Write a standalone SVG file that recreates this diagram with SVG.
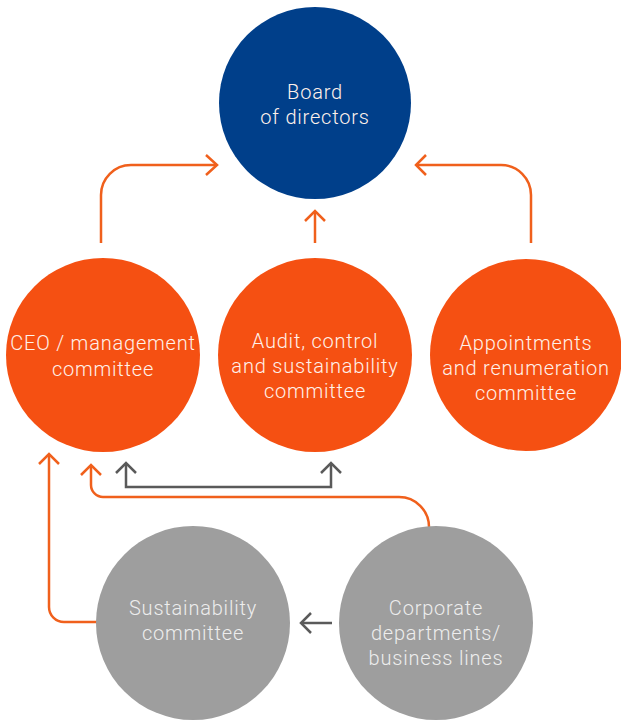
<svg xmlns="http://www.w3.org/2000/svg" width="621" height="720" viewBox="0 0 621 720">
<style>
.org{fill:#F55012}
.blue{fill:#003F8A}
.gray{fill:#9E9E9E}
text{font-family:Roboto,"Liberation Sans",sans-serif;font-weight:300;font-size:20px;letter-spacing:0.8px;fill:#FFF1EA;text-anchor:middle}
.gt{fill:#EDEDED}
.co{fill:none;stroke:#F0601C;stroke-width:2.5;stroke-linecap:butt;stroke-linejoin:miter}
.cg{fill:none;stroke:#5A5A5A;stroke-width:2.5}
</style>
<g id="connectors">
<path class="co" d="M101,243 V195 A30,30 0 0 1 131,165 H217"/>
<path class="co" d="M206,155 L217,165 L206,175"/>
<path class="co" d="M315,243 V211"/>
<path class="co" d="M305,221 L315,211 L325,221"/>
<path class="co" d="M531,243 V195 A30,30 0 0 0 501,165 H416"/>
<path class="co" d="M426,155 L416,165 L426,175"/>
<path class="cg" d="M126,463 V487 H331 V463"/>
<path class="cg" d="M116,473 L126,463 L136,473"/>
<path class="cg" d="M321,473 L331,463 L341,473"/>
<path class="co" d="M429,530 V527 A30,30 0 0 0 399,497 H103 A12,12 0 0 1 91,485 V465"/>
<path class="co" d="M81,475 L91,465 L101,475"/>
<path class="co" d="M97,622 H64 A15,15 0 0 1 49,607 V454"/>
<path class="co" d="M39,464 L49,454 L59,464"/>
<path class="cg" d="M332,623 H301"/>
<path class="cg" d="M311,613 L301,623 L311,633"/>
</g>
<g id="board">
<circle class="blue" cx="315" cy="103" r="96"/>
<text x="315" y="99">Board</text>
<text x="315" y="124">of directors</text>
</g>
<g id="ceo">
<circle class="org" cx="103" cy="355" r="97"/>
<text x="103" y="350">CEO / management</text>
<text x="103" y="376">committee</text>
</g>
<g id="audit">
<circle class="org" cx="315" cy="355" r="97"/>
<text x="315" y="348">Audit, control</text>
<text x="315" y="373">and sustainability</text>
<text x="315" y="398">committee</text>
</g>
<g id="appointments">
<circle class="org" cx="526" cy="355" r="96"/>
<text x="526" y="350">Appointments</text>
<text x="526" y="375">and renumeration</text>
<text x="526" y="400">committee</text>
</g>
<g id="sustainability">
<circle class="gray" cx="193" cy="623" r="97"/>
<text class="gt" x="193" y="615">Sustainability</text>
<text class="gt" x="193" y="640">committee</text>
</g>
<g id="corporate">
<circle class="gray" cx="436" cy="623" r="97"/>
<text class="gt" x="436" y="615">Corporate</text>
<text class="gt" x="436" y="640">departments/</text>
<text class="gt" x="436" y="665">business lines</text>
</g>
</svg>
